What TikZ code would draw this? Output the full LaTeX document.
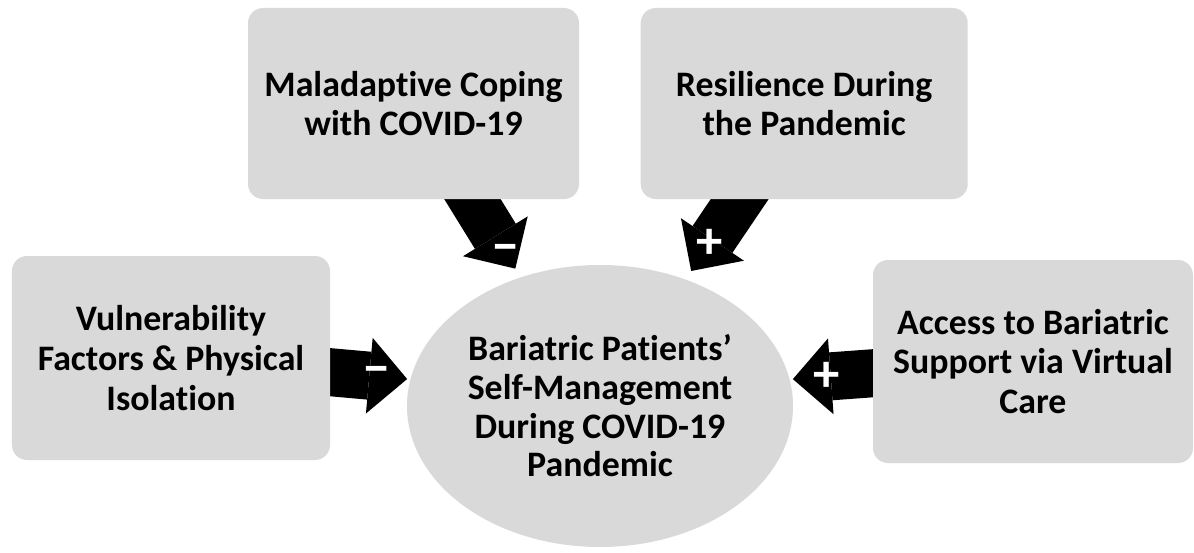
\documentclass[tikz,border=0pt]{standalone}
\usepackage{fontspec}
\setmainfont{Carlito}[Ligatures=NoCommon]
\usetikzlibrary{shapes.geometric,arrows.meta,positioning,backgrounds}
\definecolor{boxgray}{RGB}{217,217,217}

\begin{document}
\begin{tikzpicture}[
    x=0.2mm, y=-0.2mm,
    factor/.style={fill=boxgray, rounded corners=0.3cm, align=center, inner sep=0pt, font=\bfseries\fontsize{20.4}{22.6}\selectfont},
    outcome/.style={ellipse, fill=boxgray, align=center, inner sep=0pt, minimum width=7.72cm, minimum height=5.64cm, font=\bfseries\fontsize{20.4}{22}\selectfont},
    effect/.style={line width=0.96cm, -{Triangle[length=0.76cm 0 0, width=1.52cm 0 0, line width=0pt 0 0]}},
    sign/.style={text=white, font=\bfseries\fontsize{30}{30}\selectfont, inner sep=0pt}
]
\useasboundingbox (0,0) rectangle (1194,552);

% Outcome
\node[outcome] (self) at (600,406) {Bariatric Patients'\\Self-Management\\During COVID-19\\Pandemic};

% Top factors
\node[factor, minimum width=6.62cm, minimum height=3.82cm] (mal) at (413.5,103.5) {Maladaptive Coping\\with COVID-19};
\node[factor, minimum width=6.54cm, minimum height=3.82cm, right=1.22cm of mal] (res) {Resilience During\\the Pandemic};

% Side factors
\node[factor, minimum width=6.36cm, minimum height=4.08cm] (vul) at (171,358) {Vulnerability\\Factors \& Physical\\Isolation};
\node[factor, minimum width=6.4cm, minimum height=4.06cm] (acc) at (1033,361.5) {Access to Bariatric\\Support via Virtual\\Care};

% Effects
\begin{scope}[on background layer]
\draw[effect, shorten >=0.2cm] (mal.center) -- node[sign, pos=0.865] {−} (self);
\draw[effect, shorten >=0.2cm] (res.center) -- node[sign, pos=0.8] {+} (self);
\draw[effect, shorten >=0.06cm] (vul.center) -- node[sign, pos=0.86] {−} (self.172);
\draw[effect, shorten >=0.06cm] (acc.center) -- node[sign, pos=0.85] {+} (self.8);
\end{scope}
\end{tikzpicture}
\end{document}
